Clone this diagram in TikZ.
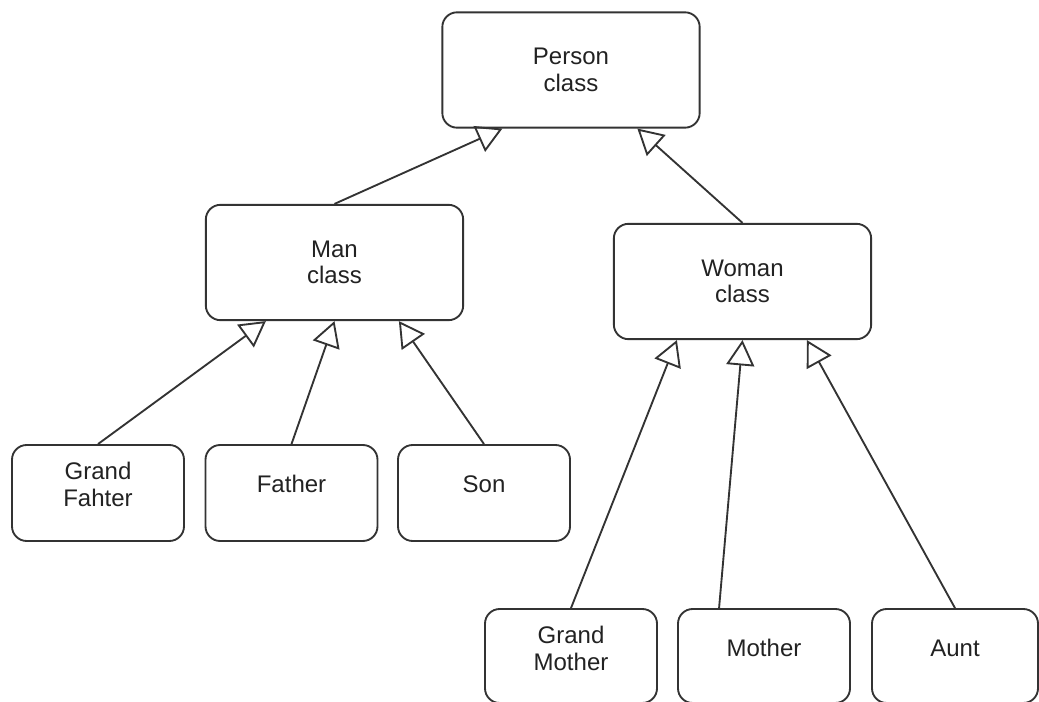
\documentclass[tikz,border=0pt]{standalone}
\usepackage{fontspec}
\setmainfont{Liberation Sans}
\usetikzlibrary{arrows.meta,calc}
\definecolor{edge}{HTML}{333333}
\definecolor{ink}{HTML}{222222}
\begin{document}
\begin{tikzpicture}[x=0.75pt,y=-0.75pt,
  box/.style={draw=edge,line width=1.4pt,rounded corners=11pt,fill=white,
    align=center,text=ink,font=\fontsize{18pt}{20pt}\selectfont,inner sep=0pt},
  bigbox/.style={box,minimum width=193pt,minimum height=86.5pt},
  leafbox/.style={box,minimum width=129pt,minimum height=72pt},
  lowbox/.style={box,minimum width=129pt,minimum height=70.5pt},
  lbl/.style={align=center,text=ink,font=\fontsize{18pt}{20pt}\selectfont,inner sep=0pt},
  inherit/.style={draw=edge,line width=1.4pt,
    -{Triangle[open,length=19pt,width=21pt,line width=1.4pt]}}]
\useasboundingbox (0,0) rectangle (1039,702);
\clip (0,0) rectangle (1039,702);

% class boxes
\node[bigbox] (person) at (571,70) {Person\\class};
\node[bigbox] (man)    at (334.5,262.5) {Man\\class};
\node[bigbox] (woman)  at (742.5,281.5) {Woman\\class};

% subclasses of Man
\node[leafbox] (gf)     at (98,493) {};
\node[leafbox] (father) at (291.5,493) {};
\node[leafbox] (son)    at (484,493) {};
\node[lbl] at ([yshift=6.5pt]gf.center) {Grand\\Fahter};
\node[lbl] at ([yshift=6.5pt]father.center) {Father};
\node[lbl] at ([yshift=6.5pt]son.center) {Son};

% subclasses of Woman
\node[lowbox] (gm)     at (571,656) {};
\node[lowbox] (mother) at (764,656) {};
\node[box,minimum width=124.5pt,minimum height=70.5pt] (aunt) at (955,656) {};
\node[lbl] at ([yshift=5.75pt]gm.center) {Grand\\Mother};
\node[lbl] at ([yshift=5.75pt]mother.center) {Mother};
\node[lbl] at ([yshift=5.75pt]aunt.center) {Aunt};

% generalisation arrows
\draw[inherit] (man.north) -- ($(person.south west)+(61,0)$);
\draw[inherit] (woman.north) -- ($(person.south west)+(196,0)$);
\draw[inherit] (gf.north) -- ($(man.south west)+(61,0)$);
\draw[inherit] (father.north) -- (man.south);
\draw[inherit] (son.north) -- ($(man.south west)+(194,0)$);
\draw[inherit] (gm.north) -- ($(woman.south west)+(64,0)$);
\draw[inherit] ($(mother.north west)+(42,0)$) -- (woman.south);
\draw[inherit] (aunt.north) -- ($(woman.south west)+(194,0)$);
\end{tikzpicture}
\end{document}
